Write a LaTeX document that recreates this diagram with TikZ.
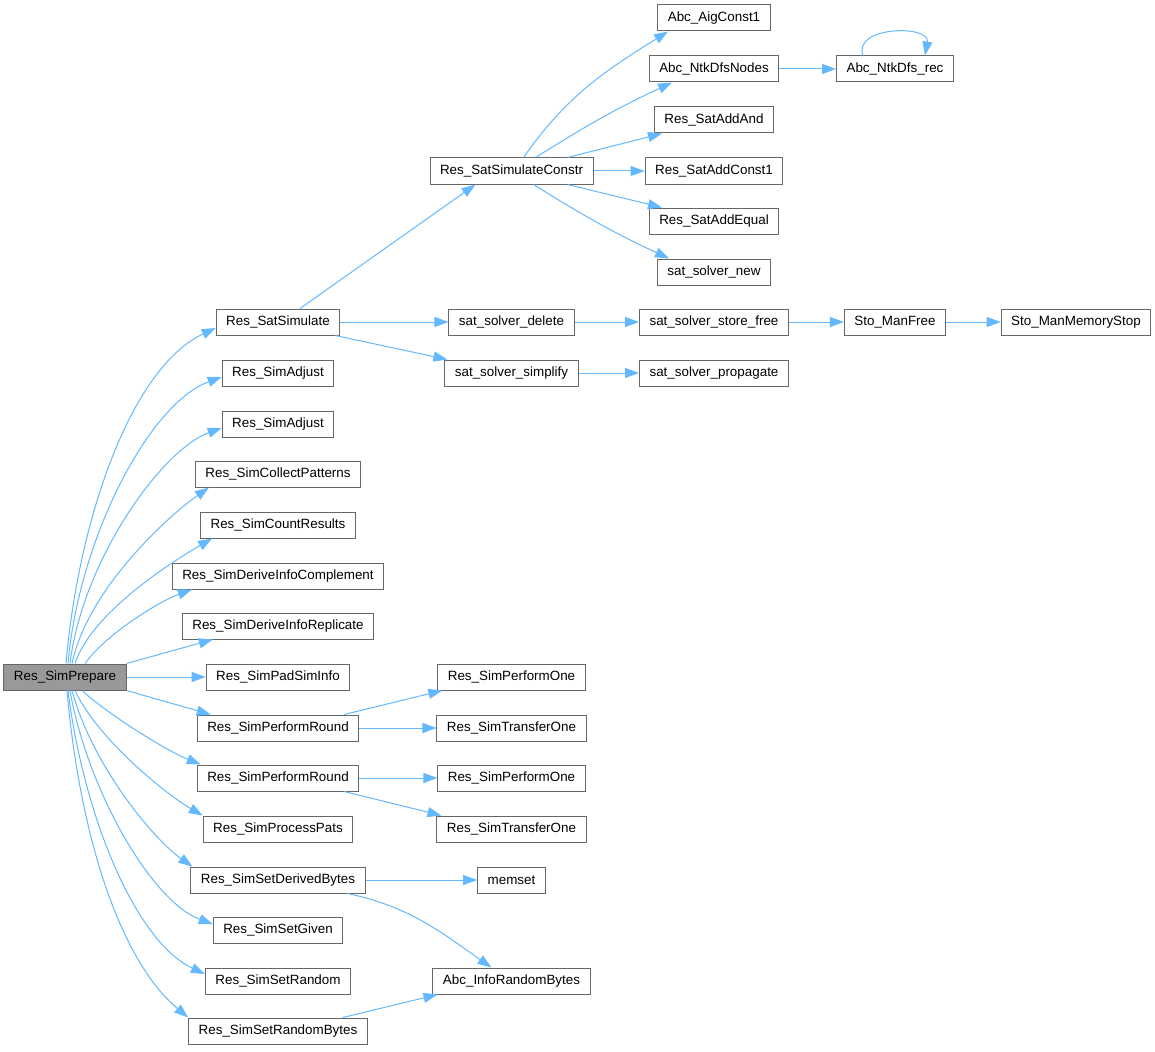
\documentclass[tikz,border=0pt]{standalone}
\usepackage{fontspec}
\setmainfont{Liberation Sans}
\usetikzlibrary{arrows.meta}
\definecolor{edgeblue}{HTML}{63B8FF}
\definecolor{boxgray}{HTML}{666666}
\definecolor{curgray}{HTML}{999999}

\begin{document}
\begin{tikzpicture}[x=1pt, y=1pt,
  fn/.style={draw=boxgray, line width=1pt, fill=white, inner xsep=10pt, inner ysep=0pt, minimum height=26pt, font=\fontsize{13.4}{15}\selectfont},
  call/.style={draw=edgeblue, line width=1pt, -{Triangle[length=14pt,width=10pt]}}
]
  \useasboundingbox (0,0) rectangle (1155,-1051);

  % caller
  \node[fn, fill=curgray] (prep) at (65,-677) {Res\_SimPrepare};

  % first level
  \node[fn] (satsim)    at (278,-322)  {Res\_SatSimulate};
  \node[fn] (adj1)      at (278,-373)  {Res\_SimAdjust};
  \node[fn] (adj2)      at (278,-424)  {Res\_SimAdjust};
  \node[fn] (collect)   at (278,-474)  {Res\_SimCollectPatterns};
  \node[fn] (count)     at (278,-525)  {Res\_SimCountResults};
  \node[fn] (derivec)   at (278,-576)  {Res\_SimDeriveInfoComplement};
  \node[fn] (deriver)   at (278,-626)  {Res\_SimDeriveInfoReplicate};
  \node[fn] (pad)       at (278,-677)  {Res\_SimPadSimInfo};
  \node[fn] (round1)    at (278,-728)  {Res\_SimPerformRound};
  \node[fn] (round2)    at (278,-778)  {Res\_SimPerformRound};
  \node[fn] (procpats)  at (278,-829)  {Res\_SimProcessPats};
  \node[fn] (setderiv)  at (278,-880)  {Res\_SimSetDerivedBytes};
  \node[fn] (setgiven)  at (278,-930)  {Res\_SimSetGiven};
  \node[fn] (setrand)   at (278,-981)  {Res\_SimSetRandom};
  \node[fn] (setrandb)  at (278,-1031) {Res\_SimSetRandomBytes};

  % second level
  \node[fn] (satsimc)   at (511.5,-171) {Res\_SatSimulateConstr};
  \node[fn] (sdelete)   at (511.5,-322) {sat\_solver\_delete};
  \node[fn] (simplify)  at (511.5,-373) {sat\_solver\_simplify};
  \node[fn] (perf1)     at (511.5,-677) {Res\_SimPerformOne};
  \node[fn] (trans1)    at (511.5,-728) {Res\_SimTransferOne};
  \node[fn] (perf2)     at (511.5,-778) {Res\_SimPerformOne};
  \node[fn] (trans2)    at (511.5,-829) {Res\_SimTransferOne};
  \node[fn] (memset)    at (511.5,-880) {memset};
  \node[fn] (infornd)   at (511.5,-981) {Abc\_InfoRandomBytes};

  % third level and deeper
  \node[fn] (aigc1)     at (714,-18)  {Abc\_AigConst1};
  \node[fn] (dfsnodes)  at (714,-69)  {Abc\_NtkDfsNodes};
  \node[fn] (addand)    at (714,-120) {Res\_SatAddAnd};
  \node[fn] (addc1)     at (714,-171) {Res\_SatAddConst1};
  \node[fn] (addeq)     at (714,-221) {Res\_SatAddEqual};
  \node[fn] (snew)      at (714,-272) {sat\_solver\_new};
  \node[fn] (storefree) at (714,-322) {sat\_solver\_store\_free};
  \node[fn] (propag)    at (714,-373) {sat\_solver\_propagate};
  \node[fn] (dfsrec)    at (895,-69)  {Abc\_NtkDfs\_rec};
  \node[fn] (manfree)   at (895,-322) {Sto\_ManFree};
  \node[fn] (memstop)   at (1076,-322) {Sto\_ManMemoryStop};

  % calls from Res_SimPrepare
  \draw[call] ([xshift=1]prep.north)  .. controls +(85:149) and +(205:92) .. ([yshift=-6]satsim.west);
  \draw[call] ([xshift=3]prep.north)  .. controls +(85:126) and +(200:77) .. ([yshift=-4]adj1.west);
  \draw[call] ([xshift=5]prep.north)  .. controls +(83:104) and +(200:64) .. ([yshift=-4]adj2.west);
  \draw[call] ([xshift=7]prep.north)  .. controls +(78:77) and +(215:48) .. ([xshift=14]collect.south west);
  \draw[call] ([xshift=10]prep.north) .. controls +(72:55) and +(210:40) .. ([xshift=12]count.south west);
  \draw[call] ([xshift=20]prep.north) .. controls +(55:35) and +(200:35) .. ([xshift=20]derivec.south west);
  \draw[call] (prep.north east) -- ([xshift=31]deriver.south west);
  \draw[call] (prep) -- (pad);
  \draw[call] (prep.south east) -- ([xshift=14]round1.north west);
  \draw[call] ([xshift=17]prep.south) .. controls +(-42:40) and +(158:35) .. ([xshift=4]round2.north west);
  \draw[call] ([xshift=10]prep.south) .. controls +(-65:55) and +(150:40) .. (procpats.north west);
  \draw[call] ([xshift=7]prep.south)  .. controls +(-75:77) and +(145:48) .. ([xshift=2]setderiv.north west);
  \draw[call] ([xshift=5]prep.south)  .. controls +(-80:103) and +(160:64) .. ([yshift=6]setgiven.west);
  \draw[call] ([xshift=3]prep.south)  .. controls +(-83:125) and +(155:77) .. ([yshift=7]setrand.west);
  \draw[call] ([xshift=2]prep.south)  .. controls +(-85:144) and +(140:90) .. (setrandb.north west);

  % deeper calls
  \draw[call] ([xshift=22]satsim.north) -- ([xshift=-36]satsimc.south);
  \draw[call] (satsim) -- (sdelete);
  \draw[call] ([xshift=-5]satsim.south east) -- ([xshift=3]simplify.north west);
  \draw[call] ([xshift=12]satsimc.north) to[out=55,in=212] ([xshift=-46]aigc1.south);
  \draw[call] ([xshift=24]satsimc.north) to[out=32,in=205] ([xshift=-42]dfsnodes.south);
  \draw[call] ([xshift=56]satsimc.north) -- ([xshift=-52]addand.south);
  \draw[call] (satsimc) -- (addc1);
  \draw[call] ([xshift=56]satsimc.south) -- ([xshift=-52]addeq.north);
  \draw[call] ([xshift=22]satsimc.south) to[out=-32,in=155] ([xshift=-45]snew.north);
  \draw[call] (dfsnodes) -- (dfsrec);
  \draw[call] ([xshift=-32]dfsrec.north) to[out=110,in=80,looseness=1.3] ([xshift=30]dfsrec.north);
  \draw[call] (sdelete) -- (storefree);
  \draw[call] (storefree) -- (manfree);
  \draw[call] (manfree) -- (memstop);
  \draw[call] (simplify) -- (propag);
  \draw[call] ([xshift=-15]round1.north east) -- ([xshift=5]perf1.south west);
  \draw[call] (round1) -- (trans1);
  \draw[call] (round2) -- (perf2);
  \draw[call] ([xshift=-15]round2.south east) -- ([xshift=5]trans2.north west);
  \draw[call] (setderiv) -- (memset);
  \draw[call] ([xshift=-18]setderiv.south east) to[out=-12,in=145] ([xshift=-20]infornd.north);
  \draw[call] ([xshift=-25]setrandb.north east) -- ([xshift=5]infornd.south west);
\end{tikzpicture}
\end{document}
